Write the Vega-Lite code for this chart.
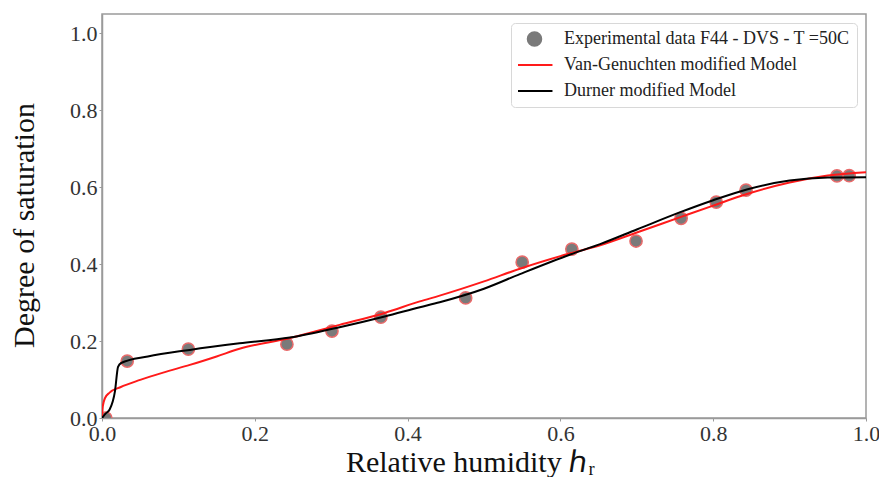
{
  "$schema": "https://vega.github.io/schema/vega-lite/v6.json",
  "autosize": {"type": "none"},
  "width": 764,
  "height": 404,
  "padding": {"left": 102, "top": 14, "right": 13, "bottom": 59},
  "background": "white",
  "config": {
    "view": {"stroke": "#9a9a9a", "strokeWidth": 1.5},
    "font": "Liberation Serif",
    "style": {"guide-label": {"font": "Liberation Serif"}, "guide-title": {"font": "Liberation Serif"}},
    "axis": {
      "grid": false,
      "domainColor": "#9a9a9a",
      "domainWidth": 1.5,
      "tickColor": "#9a9a9a",
      "tickSize": 3,
      "labelFont": "Liberation Serif",
      "labelFontSize": 22,
      "labelColor": "#333333",
      "titleFont": "Liberation Serif",
      "titleFontSize": 30,
      "titleFontWeight": "normal",
      "titleColor": "#111111"
    }
  },
  "datasets": {
    "points": [
      {"hR": 0.005, "S": 0.0, "series": "Experimental data F44 - DVS - T =50C"},
      {"hR": 0.033, "S": 0.148, "series": "Experimental data F44 - DVS - T =50C"},
      {"hR": 0.113, "S": 0.179, "series": "Experimental data F44 - DVS - T =50C"},
      {"hR": 0.242, "S": 0.192, "series": "Experimental data F44 - DVS - T =50C"},
      {"hR": 0.301, "S": 0.226, "series": "Experimental data F44 - DVS - T =50C"},
      {"hR": 0.365, "S": 0.262, "series": "Experimental data F44 - DVS - T =50C"},
      {"hR": 0.476, "S": 0.312, "series": "Experimental data F44 - DVS - T =50C"},
      {"hR": 0.550, "S": 0.405, "series": "Experimental data F44 - DVS - T =50C"},
      {"hR": 0.615, "S": 0.439, "series": "Experimental data F44 - DVS - T =50C"},
      {"hR": 0.699, "S": 0.460, "series": "Experimental data F44 - DVS - T =50C"},
      {"hR": 0.758, "S": 0.519, "series": "Experimental data F44 - DVS - T =50C"},
      {"hR": 0.804, "S": 0.561, "series": "Experimental data F44 - DVS - T =50C"},
      {"hR": 0.843, "S": 0.592, "series": "Experimental data F44 - DVS - T =50C"},
      {"hR": 0.962, "S": 0.629, "series": "Experimental data F44 - DVS - T =50C"},
      {"hR": 0.978, "S": 0.630, "series": "Experimental data F44 - DVS - T =50C"}
    ],
    "curves": [
      {"hR": 0.0, "S": 0.0, "series": "Van-Genuchten modified Model"},
      {"hR": 0.001, "S": 0.03, "series": "Van-Genuchten modified Model"},
      {"hR": 0.004, "S": 0.052, "series": "Van-Genuchten modified Model"},
      {"hR": 0.01, "S": 0.066, "series": "Van-Genuchten modified Model"},
      {"hR": 0.024, "S": 0.08, "series": "Van-Genuchten modified Model"},
      {"hR": 0.05, "S": 0.099, "series": "Van-Genuchten modified Model"},
      {"hR": 0.08, "S": 0.118, "series": "Van-Genuchten modified Model"},
      {"hR": 0.115, "S": 0.138, "series": "Van-Genuchten modified Model"},
      {"hR": 0.15, "S": 0.16, "series": "Van-Genuchten modified Model"},
      {"hR": 0.18, "S": 0.18, "series": "Van-Genuchten modified Model"},
      {"hR": 0.246, "S": 0.208, "series": "Van-Genuchten modified Model"},
      {"hR": 0.311, "S": 0.242, "series": "Van-Genuchten modified Model"},
      {"hR": 0.37, "S": 0.273, "series": "Van-Genuchten modified Model"},
      {"hR": 0.416, "S": 0.303, "series": "Van-Genuchten modified Model"},
      {"hR": 0.442, "S": 0.318, "series": "Van-Genuchten modified Model"},
      {"hR": 0.5, "S": 0.355, "series": "Van-Genuchten modified Model"},
      {"hR": 0.547, "S": 0.388, "series": "Van-Genuchten modified Model"},
      {"hR": 0.613, "S": 0.428, "series": "Van-Genuchten modified Model"},
      {"hR": 0.652, "S": 0.449, "series": "Van-Genuchten modified Model"},
      {"hR": 0.7, "S": 0.482, "series": "Van-Genuchten modified Model"},
      {"hR": 0.757, "S": 0.522, "series": "Van-Genuchten modified Model"},
      {"hR": 0.8, "S": 0.552, "series": "Van-Genuchten modified Model"},
      {"hR": 0.844, "S": 0.582, "series": "Van-Genuchten modified Model"},
      {"hR": 0.9, "S": 0.612, "series": "Van-Genuchten modified Model"},
      {"hR": 0.95, "S": 0.630, "series": "Van-Genuchten modified Model"},
      {"hR": 1.0, "S": 0.639, "series": "Van-Genuchten modified Model"},
      {"hR": 0.0, "S": 0.0, "series": "Durner modified Model"},
      {"hR": 0.005, "S": 0.012, "series": "Durner modified Model"},
      {"hR": 0.01, "S": 0.022, "series": "Durner modified Model"},
      {"hR": 0.017, "S": 0.07, "series": "Durner modified Model"},
      {"hR": 0.021, "S": 0.133, "series": "Durner modified Model"},
      {"hR": 0.025, "S": 0.143, "series": "Durner modified Model"},
      {"hR": 0.06, "S": 0.16, "series": "Durner modified Model"},
      {"hR": 0.115, "S": 0.177, "series": "Durner modified Model"},
      {"hR": 0.18, "S": 0.194, "series": "Durner modified Model"},
      {"hR": 0.246, "S": 0.209, "series": "Durner modified Model"},
      {"hR": 0.311, "S": 0.236, "series": "Durner modified Model"},
      {"hR": 0.37, "S": 0.264, "series": "Durner modified Model"},
      {"hR": 0.416, "S": 0.288, "series": "Durner modified Model"},
      {"hR": 0.442, "S": 0.301, "series": "Durner modified Model"},
      {"hR": 0.5, "S": 0.336, "series": "Durner modified Model"},
      {"hR": 0.547, "S": 0.374, "series": "Durner modified Model"},
      {"hR": 0.613, "S": 0.425, "series": "Durner modified Model"},
      {"hR": 0.652, "S": 0.452, "series": "Durner modified Model"},
      {"hR": 0.7, "S": 0.49, "series": "Durner modified Model"},
      {"hR": 0.757, "S": 0.535, "series": "Durner modified Model"},
      {"hR": 0.8, "S": 0.566, "series": "Durner modified Model"},
      {"hR": 0.844, "S": 0.594, "series": "Durner modified Model"},
      {"hR": 0.9, "S": 0.617, "series": "Durner modified Model"},
      {"hR": 0.95, "S": 0.625, "series": "Durner modified Model"},
      {"hR": 1.0, "S": 0.626, "series": "Durner modified Model"}
    ]
  },
  "encoding": {
    "x": {
      "field": "hR", "type": "quantitative",
      "scale": {"domain": [0, 1], "nice": false, "zero": false},
      "axis": {
        "values": [0, 0.2, 0.4, 0.6, 0.8, 1.0], "format": ".1f",
        "title": "Relative humidity ℎᵣ",
        "labelFlush": false,
        "labelFont": "Liberation Serif", "labelFontSize": 22,
        "labelPadding": 2,
        "titleFont": "Liberation Serif",
        "titleX": 368, "titleY": 53, "titleBaseline": "alphabetic", "titleAlign": "center", "titleAnchor": null,
        "encode": {"labels": {"update": {"font": {"value": "Liberation Serif"}}}}
      }
    },
    "y": {
      "field": "S", "type": "quantitative",
      "scale": {"domain": [0, 1.05], "nice": false},
      "axis": {
        "values": [0, 0.2, 0.4, 0.6, 0.8, 1.0], "format": ".1f",
        "title": "Degree of saturation",
        "labelFlush": false,
        "labelFont": "Liberation Serif", "labelFontSize": 22,
        "labelPadding": 2,
        "titleFont": "Liberation Serif",
        "titleX": -69, "titleY": 211, "titleBaseline": "alphabetic", "titleAlign": "center", "titleAngle": -90, "titleAnchor": null,
        "encode": {"labels": {"update": {"font": {"value": "Liberation Serif"}}}}
      }
    },
    "color": {
      "field": "series", "type": "nominal",
      "scale": {
        "domain": ["Experimental data F44 - DVS - T =50C", "Van-Genuchten modified Model", "Durner modified Model"],
        "range": ["#7a7a7a", "#ff1a1a", "#000000"]
      },
      "legend": {
        "title": null,
        "orient": "top-right",
        "offset": 9,
        "padding": 7,
        "fillColor": "white",
        "strokeColor": "#d8d8d8",
        "cornerRadius": 4,
        "labelFont": "Liberation Serif",
        "labelFontSize": 18,
        "labelColor": "#222222",
        "labelLimit": 400,
        "labelOffset": 28,
        "rowPadding": 8,
        "clipHeight": 18,
        "symbolSize": 324,
        "symbolStrokeWidth": 2,
        "encode": {
          "symbols": {
            "update": {
              "shape": {"signal": "datum.value === 'Experimental data F44 - DVS - T =50C' ? 'M 0.053,0 A 0.78,0.78 0 1,1 1.613,0 A 0.78,0.78 0 1,1 0.053,0 Z' : 'M -1.17,0 L 2.83,0'"},
              "size": {"value": 324},
              "fill": {"signal": "datum.value === 'Experimental data F44 - DVS - T =50C' ? '#7a7a7a' : 'transparent'"},
              "stroke": {"signal": "datum.value === 'Experimental data F44 - DVS - T =50C' ? '#e86a6a' : (datum.value === 'Van-Genuchten modified Model' ? '#ff1a1a' : '#000000')"},
              "strokeWidth": {"signal": "datum.value === 'Experimental data F44 - DVS - T =50C' ? 1.5 : 2"},
              "opacity": {"value": 1}
            }
          }
        }
      }
    }
  },
  "layer": [
    {
      "data": {"name": "points"},
      "mark": {"type": "point", "filled": true, "size": 150, "stroke": "#e86a6a", "strokeWidth": 1.5, "opacity": 1, "clip": true}
    },
    {
      "data": {"name": "curves"},
      "mark": {"type": "line", "strokeWidth": 2, "interpolate": "monotone", "clip": true}
    }
  ]
}
